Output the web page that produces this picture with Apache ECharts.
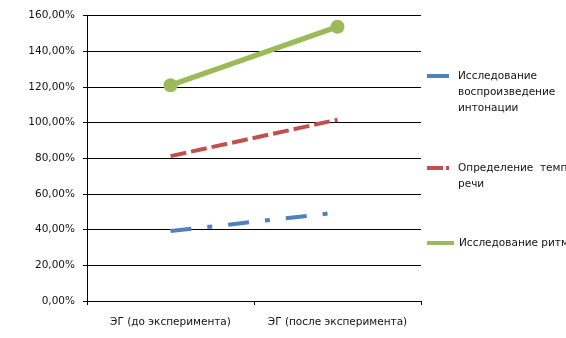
<!DOCTYPE html>
<html>
<head>
<meta charset="utf-8">
<script src="https://cdn.jsdelivr.net/npm/echarts@6/dist/echarts.min.js"></script>
<style>
html, body { margin: 0; padding: 0; background: #fff; }
#chart { width: 566px; height: 338px; }
</style>
</head>
<body>
<div id="chart"></div>
<script>
// категории и значения (в процентах)
var categories = ['ЭГ (до эксперимента)', 'ЭГ (после эксперимента)'];
var seriesNames = [
	'Исследование воспроизведение интонации',
	'Определение темпа речи',
	'Исследование ритма'
];
var legendLabels = [
	['Исследование', 'воспроизведение', 'интонации'],
	['Определение  темпа', 'речи'],
	['Исследование ритма']
];
var intonation = [39.2, 49.6];
var tempo = [81.2, 101.6];
var rhythm = [120.9, 153.7];
var yTicks = { min: 0, max: 160, step: 20 };

var colors = ['#4F81BD', '#C0504D', '#9BBB59'];
var font = 'DejaVu Sans';
var fs = 10.5;

// пустые строки сверху, чтобы первая строка текста стояла напротив значка
function legendFor(i, top, width, icon) {
	var lines = legendLabels[i];
	var pad = [];
	for (var k = 1; k < lines.length; k++) pad.push('\u00a0');
	var text = pad.concat(lines).join('\n');
	return {
		data: [seriesNames[i]],
		left: 427,
		top: top,
		padding: 0,
		orient: 'vertical',
		itemWidth: width,
		itemHeight: 4,
		icon: icon,
		itemStyle: { color: colors[i], borderWidth: 0 },
		formatter: function() { return text; },
		textStyle: {
			fontFamily: font,
			fontSize: fs,
			color: '#111',
			lineHeight: 16,
			padding: [0, 0, 0, width == 27 ? 0 : 4]
		}
	};
}

var chart = echarts.init(document.getElementById('chart'));
chart.setOption({
	animation: false,
	grid: { left: 87, right: 145, top: 15.5, bottom: 37 },
	legend: [
		legendFor(0, 36, 22, 'rect'),
		legendFor(1, 144, 22, 'path://M0,0H16V4H0ZM19,0H22V4H19Z'),
		legendFor(2, 235, 27, 'rect')
	],
	xAxis: {
		type: 'category',
		data: categories,
		boundaryGap: true,
		axisLine: { lineStyle: { color: '#000', width: 1 } },
		axisTick: { show: true, length: 4, lineStyle: { color: '#000' } },
		axisLabel: { fontFamily: font, fontSize: fs, color: '#111', margin: 16, interval: 0 },
		splitLine: { show: false }
	},
	yAxis: {
		type: 'value',
		min: yTicks.min,
		max: yTicks.max,
		interval: yTicks.step,
		axisLine: { show: true, lineStyle: { color: '#000', width: 1 } },
		axisTick: { show: true, length: 4, lineStyle: { color: '#000' } },
		axisLabel: {
			fontFamily: font, fontSize: fs, color: '#111', margin: 12,
			formatter: function(v) { return v.toFixed(2).replace('.', ',') + '%'; }
		},
		splitLine: { show: true, lineStyle: { color: '#000', width: 1 } }
	},
	series: [{
		name: seriesNames[0],
		type: 'line',
		data: intonation,
		symbol: 'none',
		lineStyle: { color: colors[0], width: 4, type: [21, 16, 5, 16], cap: 'butt' },
		itemStyle: { color: colors[0] }
	}, {
		name: seriesNames[1],
		type: 'line',
		data: tempo,
		symbol: 'none',
		lineStyle: { color: colors[1], width: 4, type: [16, 5], cap: 'butt' },
		itemStyle: { color: colors[1] }
	}, {
		name: seriesNames[2],
		type: 'line',
		data: rhythm,
		symbol: 'circle',
		symbolSize: 14,
		lineStyle: { color: colors[2], width: 5.5 },
		itemStyle: { color: colors[2] }
	}]
});
</script>
</body>
</html>
